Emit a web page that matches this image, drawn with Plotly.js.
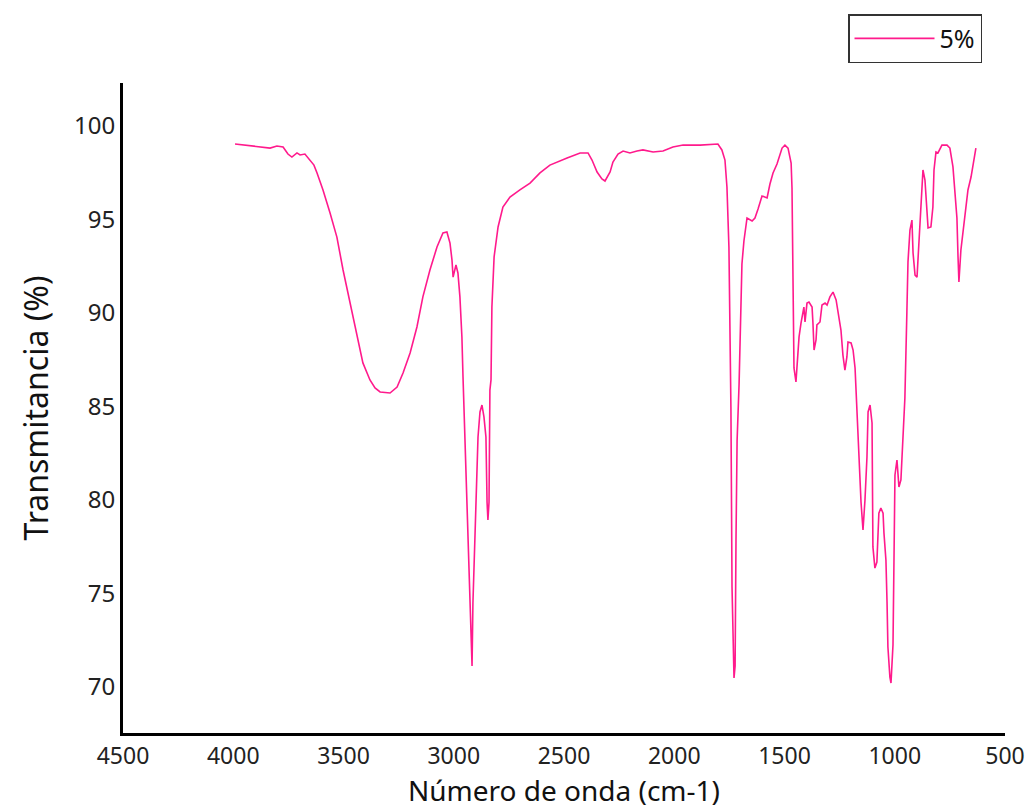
<!DOCTYPE html>
<html>
<head>
<meta charset="utf-8">
<script src="https://cdn.plot.ly/plotly-3.0.1.min.js"></script>
<style>html,body{margin:0;padding:0;background:#fff;}#chart{width:1034px;height:809px;}</style>
</head>
<body>
<div id="chart"></div>
<script>
const seriesName = "5%";
const wavenumber = [3992,3947,3901,3870,3833,3802,3774,3752,3734,3711,3697,3675,3652,3634,3620,3593,3561,3530,3502,3471,3439,3412,3380,3357,3334,3289,3257,3230,3198,3167,3140,3108,3076,3049,3031,3017,3008,3003,2990,2981,2972,2963,2958,2949,2940,2931,2922,2917,2913,2904,2895,2890,2881,2872,2863,2854,2849,2845,2840,2836,2831,2827,2817,2799,2777,2745,2700,2654,2609,2564,2486,2427,2391,2373,2350,2328,2314,2291,2278,2255,2232,2201,2169,2142,2096,2051,2006,1960,1883,1802,1784,1770,1761,1752,1743,1738,1729,1724,1720,1715,1706,1697,1693,1684,1675,1670,1647,1634,1620,1602,1579,1566,1552,1534,1511,1498,1484,1470,1466,1461,1457,1448,1439,1434,1425,1416,1412,1407,1398,1389,1375,1371,1366,1357,1353,1339,1330,1316,1307,1294,1280,1266,1257,1244,1235,1226,1217,1212,1198,1189,1180,1171,1162,1153,1144,1135,1126,1121,1112,1103,1099,1090,1081,1076,1072,1063,1053,1049,1040,1035,1031,1022,1017,1008,1003,999,990,985,981,972,967,963,954,945,940,931,922,917,908,899,895,886,877,872,863,854,849,836,827,822,813,804,786,763,750,736,727,718,713,709,700,690,682,668,654,645,632];
const transmittance = [99.04,98.98,98.93,98.88,98.82,98.93,98.88,98.50,98.34,98.56,98.45,98.50,98.18,97.91,97.49,96.58,95.35,94.06,92.30,90.53,88.72,87.33,86.42,85.99,85.78,85.72,86.04,86.79,87.86,89.25,90.86,92.30,93.53,94.28,94.33,93.74,92.83,91.92,92.57,92.14,90.86,88.72,86.58,82.94,80.64,76.68,72.67,71.12,74.49,78.56,81.23,83.37,84.71,85.08,84.44,83.37,79.89,78.93,79.89,85.88,86.42,90.32,93.00,94.60,95.67,96.20,96.58,96.95,97.49,97.91,98.29,98.56,98.56,98.18,97.54,97.17,97.06,97.54,98.07,98.50,98.66,98.56,98.66,98.72,98.61,98.66,98.88,98.98,98.98,99.04,98.72,98.18,96.74,93.53,84.97,75.35,70.48,71.12,77.81,83.16,86.20,89.95,92.62,93.85,94.65,95.08,94.92,95.08,95.56,96.26,96.15,96.90,97.49,97.97,98.82,98.98,98.82,98.02,96.68,92.67,87.06,86.31,88.02,88.72,89.47,90.27,90.32,89.52,90.53,90.59,90.32,89.47,88.02,88.56,89.36,89.52,90.43,90.53,90.43,90.86,91.12,90.70,90.05,89.09,87.75,86.95,87.65,88.45,88.40,88.02,87.06,84.55,82.30,79.89,78.40,80.00,82.30,84.71,85.08,84.12,77.49,76.36,76.68,78.02,79.30,79.57,79.30,78.24,76.79,74.55,72.14,70.53,70.21,72.25,76.95,81.34,82.14,81.50,80.70,81.07,82.41,83.05,85.45,90.05,92.73,94.44,94.97,93.21,92.03,91.92,92.83,94.97,96.74,97.65,97.11,94.97,94.55,94.60,95.67,97.65,98.61,98.56,98.98,98.98,98.82,97.81,96.58,95.08,92.99,91.66,93.37,94.44,95.35,96.58,97.27,98.02,98.82];
const xTicks = [4500,4000,3500,3000,2500,2000,1500,1000,500];
const yTicks = [70,75,80,85,90,95,100];
const xTitle = "Número de onda (cm-1)";
const yTitle = "Transmitancia (%)";

const font = "Noto Sans, Liberation Sans, Arial, sans-serif";
const trace = {
  x: wavenumber, y: transmittance, type: "scatter", mode: "lines", name: seriesName,
  line: {color: "#ff1a8c", width: 1.6}
};
const layout = {
  width: 1034, height: 809,
  margin: {l: 123, r: 29, t: 83, b: 76},
  paper_bgcolor: "#fff", plot_bgcolor: "#fff",
  font: {family: font, color: "#1a1a1a"},
  showlegend: true,
  legend: {x: 0.822, xanchor: "left", y: 1.106, yanchor: "top", bordercolor: "#333", borderwidth: 1.5,
           bgcolor: "#fff", font: {size: 25, family: font, color: "#111"}, itemwidth: 80,
           tracegroupgap: 0},
  xaxis: {range: [4500, 500], tickvals: xTicks, ticktext: xTicks.map(String), showgrid: false, zeroline: false,
          showline: true, linecolor: "#000", linewidth: 3, ticks: "", ticklabelstandoff: 0,
          tickfont: {size: 23, family: font, color: "#222"},
          title: {text: xTitle, font: {size: 28, family: font, color: "#111"}, standoff: 14}},
  yaxis: {range: [67.54, 102.3], tickvals: yTicks, ticktext: yTicks.map(String), showgrid: false, zeroline: false,
          showline: true, linecolor: "#000", linewidth: 3, ticks: "", ticklabelstandoff: 0,
          tickfont: {size: 24, family: font, color: "#222"},
          title: {text: yTitle, font: {size: 32, family: font, color: "#111"}, standoff: 16}}
};
Plotly.newPlot("chart", [trace], layout, {displayModeBar: false, staticPlot: true});
</script>
</body>
</html>
